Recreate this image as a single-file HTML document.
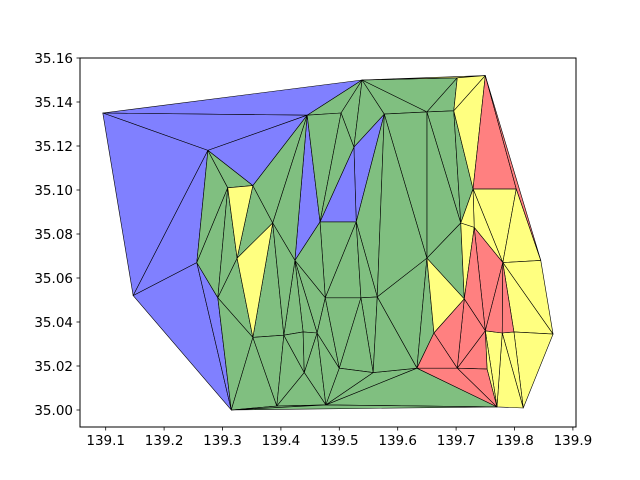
<!DOCTYPE html>
<html>
<head>
<meta charset="utf-8">
<style>
html,body{margin:0;padding:0;background:#fff;}
svg{display:block;}
text{font-family:"DejaVu Sans","Liberation Sans",sans-serif;font-size:13.5px;fill:#000;}
</style>
</head>
<body>
<svg id="chart" width="640" height="480" viewBox="0 0 640 480" xmlns="http://www.w3.org/2000/svg">
  <rect x="0" y="0" width="640" height="480" fill="#fff"/>
  <g id="mesh"></g>
  <g id="axes"></g>
</svg>
<script>
const lon = [139.095,139.539,139.750,139.702,139.445,139.503,139.577,139.650,139.696,139.525,
139.275,139.309,139.352,139.386,139.467,139.529,139.729,139.803,139.708,139.731,
139.147,139.256,139.292,139.325,139.424,139.352,139.405,139.438,139.462,139.476,
139.537,139.565,139.650,139.714,139.662,139.780,139.845,139.750,139.779,139.799,
139.866,139.440,139.500,139.558,139.633,139.702,139.753,139.315,139.393,139.477,
139.770,139.815];
const lat = [35.135,35.150,35.152,35.151,35.134,35.135,35.1345,35.1355,35.136,35.1195,
35.118,35.101,35.102,35.085,35.0855,35.0855,35.1005,35.1005,35.085,35.083,
35.052,35.067,35.051,35.069,35.068,35.033,35.034,35.0355,35.035,35.051,
35.051,35.0514,35.069,35.0505,35.035,35.067,35.068,35.036,35.035,35.0355,
35.0345,35.017,35.019,35.017,35.019,35.019,35.0186,35.000,35.0018,35.0023,
35.0014,35.0009];
const blueTris = [[0,1,4],[0,4,10],[0,10,20],[10,4,12],[20,10,21],[20,21,47],[21,22,47],[4,24,14],[9,6,15],[9,15,14]];
const greenTris = [[4,1,5],[10,11,21],[10,12,11],[11,21,22],[11,22,23],[12,13,23],[12,4,13],[4,13,24],[4,5,14],[1,5,9],[1,9,6],[5,9,14],[1,6,7],[1,7,3],[7,3,8],[7,18,8],[8,18,16],[7,32,18],[6,7,32],[32,18,33],[6,15,31],[6,31,32],[31,32,44],[32,34,44],[14,15,29],[15,29,30],[15,30,31],[14,24,29],[24,29,28],[24,28,27],[24,27,26],[13,25,26],[13,26,24],[23,22,25],[22,25,47],[25,47,48],[25,26,48],[26,41,48],[26,27,41],[27,28,41],[28,41,49],[28,42,49],[41,48,49],[28,29,42],[29,30,42],[30,31,43],[30,42,43],[42,43,49],[43,44,49],[31,43,44],[49,44,50],[47,48,49],[47,49,50]];
const yellowTris = [[11,12,23],[23,13,25],[1,2,3],[3,8,2],[8,2,16],[16,17,35],[17,36,35],[16,19,35],[16,18,19],[18,19,33],[35,36,40],[35,40,39],[39,40,51],[38,39,51],[38,51,50],[37,38,50],[37,50,46],[32,33,34]];
const redTris = [[2,16,17],[2,17,36],[19,35,37],[35,37,38],[35,38,39],[19,33,37],[33,37,45],[37,46,45],[45,46,50],[44,45,50],[34,33,45],[34,45,44]];
const xTicks = [139.1,139.2,139.3,139.4,139.5,139.6,139.7,139.8,139.9];
const xTickLabels = ["139.1","139.2","139.3","139.4","139.5","139.6","139.7","139.8","139.9"];
const yTicks = [35.00,35.02,35.04,35.06,35.08,35.10,35.12,35.14,35.16];
const yTickLabels = ["35.00","35.02","35.04","35.06","35.08","35.10","35.12","35.14","35.16"];

const AX = {left:80, right:576, top:58, bottom:427};
const xMin = 139.056, xMax = 139.9053;
const yMin = 34.99227, yMax = 35.16;
function sx(v){ return AX.left + (v - xMin) / (xMax - xMin) * (AX.right - AX.left); }
function sy(v){ return AX.bottom - (v - yMin) / (yMax - yMin) * (AX.bottom - AX.top); }
const NS = "http://www.w3.org/2000/svg";
const mesh = document.getElementById('mesh');
const axes = document.getElementById('axes');

function drawSet(tris, fill, name){
  tris.forEach(function(t){
    const p = document.createElementNS(NS,'polygon');
    p.setAttribute('points', t.map(function(i){ return sx(lon[i]).toFixed(2)+','+sy(lat[i]).toFixed(2); }).join(' '));
    p.setAttribute('fill', fill);
    p.setAttribute('stroke', '#000');
    p.setAttribute('stroke-width', '0.6');
    p.setAttribute('stroke-linejoin', 'round');
    
    
    mesh.appendChild(p);
  });
}
drawSet(blueTris, '#8080ff', 'triangle-blue');
drawSet(greenTris, '#80bf80', 'triangle-green');
drawSet(yellowTris, '#ffff80', 'triangle-yellow');
drawSet(redTris, '#ff8080', 'triangle-red');

const frame = document.createElementNS(NS,'rect');
frame.setAttribute('x', AX.left); frame.setAttribute('y', AX.top);
frame.setAttribute('width', AX.right-AX.left); frame.setAttribute('height', AX.bottom-AX.top);
frame.setAttribute('fill','none'); frame.setAttribute('stroke','#000'); frame.setAttribute('stroke-width','1');


axes.appendChild(frame);

xTicks.forEach(function(v,i){
  const x = sx(v);
  const l = document.createElementNS(NS,'line');
  l.setAttribute('x1',x); l.setAttribute('x2',x); l.setAttribute('y1',AX.bottom); l.setAttribute('y2',AX.bottom+3.5);
  l.setAttribute('stroke','#000'); l.setAttribute('stroke-width','0.8');
  
  
  axes.appendChild(l);
  const t = document.createElementNS(NS,'text');
  t.setAttribute('x',x); t.setAttribute('y',AX.bottom+18); t.setAttribute('text-anchor','middle');
  t.textContent = xTickLabels[i];
  
  
  axes.appendChild(t);
});
yTicks.forEach(function(v,i){
  const y = sy(v);
  const l = document.createElementNS(NS,'line');
  l.setAttribute('x1',AX.left-3.5); l.setAttribute('x2',AX.left); l.setAttribute('y1',y); l.setAttribute('y2',y);
  l.setAttribute('stroke','#000'); l.setAttribute('stroke-width','0.8');
  
  
  axes.appendChild(l);
  const t = document.createElementNS(NS,'text');
  t.setAttribute('x',AX.left-7); t.setAttribute('y',y+5); t.setAttribute('text-anchor','end');
  t.textContent = yTickLabels[i];
  
  
  axes.appendChild(t);
});
</script>
</body>
</html>
